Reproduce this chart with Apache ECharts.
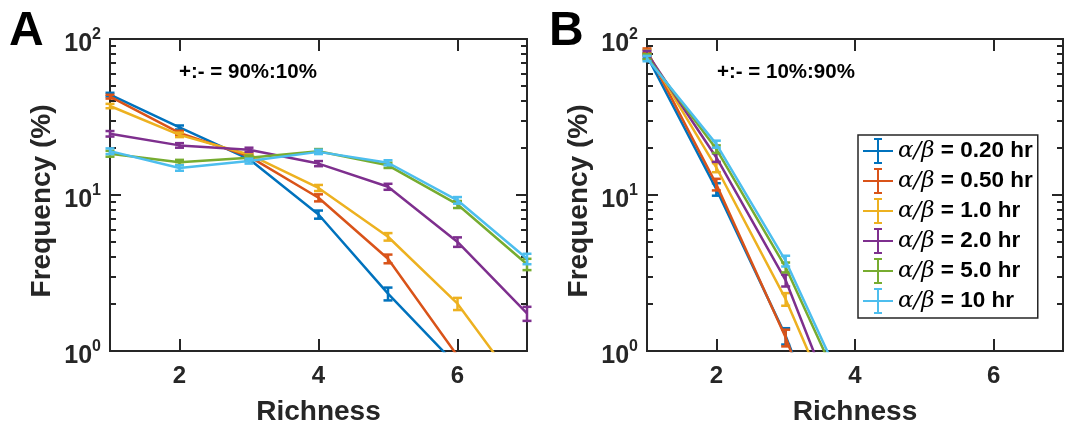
<!DOCTYPE html>
<html>
<head>
<meta charset="utf-8">
<script src="https://cdn.jsdelivr.net/npm/echarts@6/dist/echarts.min.js"></script>
<style>
html,body{margin:0;padding:0;background:#fff;}
#chart{width:1068px;height:431px;}
</style>
</head>
<body>
<div id="chart"></div>
<script>
// ---------- data ----------
const richness = [1, 2, 3, 4, 5, 6, 7];
const seriesNames = ['α/β = 0.20 hr', 'α/β = 0.50 hr', 'α/β = 1.0 hr', 'α/β = 2.0 hr', 'α/β = 5.0 hr', 'α/β = 10 hr'];
const xTicks = [2, 4, 6];
const yMajorTicks = [1, 10, 100];
const yMinorTicks = [2, 3, 4, 5, 6, 7, 8, 9, 20, 30, 40, 50, 60, 70, 80, 90];
const panelTexts = ['+:- = 90%:10%', '+:- = 10%:90%'];

// Panel A: +:- = 90%:10%
const freqA_020 = [44, 27.1, 17.0, 7.5, 2.33, 0.8, null];
const freqA_050 = [42.7, 25.0, 17.7, 9.6, 3.9, 0.93, null];
const freqA_100 = [37.2, 24.3, 18.2, 11.1, 5.4, 2.01, 0.5];
const freqA_200 = [24.7, 20.8, 19.5, 15.9, 11.3, 5.0, 1.74];
const freqA_500 = [18.4, 16.2, 17.3, 19.1, 15.5, 8.7, 3.6];
const freqA_1000 = [19.1, 14.9, 16.5, 18.9, 16.1, 9.25, 3.9];
const errA_020 = [1.2, 0.8, 0.5, 0.45, 0.22, 0.1, null];
const errA_050 = [1.2, 0.8, 0.5, 0.5, 0.25, 0.1, null];
const errA_100 = [1.2, 0.8, 0.5, 0.5, 0.3, 0.18, 0.1];
const errA_200 = [1.0, 0.7, 0.6, 0.6, 0.5, 0.35, 0.18];
const errA_500 = [0.8, 0.6, 0.6, 0.6, 0.6, 0.45, 0.3];
const errA_1000 = [0.8, 0.6, 0.6, 0.6, 0.6, 0.45, 0.3];

// Panel B: +:- = 10%:90%
const freqB_020 = [78, 10.9, 1.25, 0.09, null, null, null];
const freqB_050 = [84, 11.7, 1.22, 0.08, null, null, null];
const freqB_100 = [82, 15.0, 2.15, 0.2, null, null, null];
const freqB_200 = [81, 17.4, 2.84, 0.21, null, null, null];
const freqB_500 = [77, 19.7, 3.44, 0.37, null, null, null];
const freqB_1000 = [75, 21.2, 3.78, 0.41, null, null, null];
const errB_020 = [3, 1.0, 0.15, null, null, null, null];
const errB_050 = [3, 1.0, 0.15, null, null, null, null];
const errB_100 = [3, 1.0, 0.2, null, null, null, null];
const errB_200 = [3, 1.1, 0.25, null, null, null, null];
const errB_500 = [3, 1.1, 0.25, null, null, null, null];
const errB_1000 = [3, 1.1, 0.3, null, null, null, null];

// ---------- styling ----------
const colors = ['#0072BD', '#D95319', '#EDB120', '#7E2F8E', '#77AC30', '#4DBEEE'];
const FONT = 'Liberation Sans';
const AX = '#262626';

const panelsFreq = [
  [freqA_020, freqA_050, freqA_100, freqA_200, freqA_500, freqA_1000],
  [freqB_020, freqB_050, freqB_100, freqB_200, freqB_500, freqB_1000]
];
const panelsErr = [
  [errA_020, errA_050, errA_100, errA_200, errA_500, errA_1000],
  [errB_020, errB_050, errB_100, errB_200, errB_500, errB_1000]
];

const grids = [
  {left: 110, top: 39, width: 417, height: 313},
  {left: 647, top: 39, width: 416, height: 313}
];

const xAxes = [];
const yAxes = [];
grids.forEach((g, gi) => {
  ['bottom', 'top'].forEach(pos => {
    xAxes.push({
      type: 'value', gridIndex: gi, position: pos, min: 1, max: 7,
      axisLine: {show: true, onZero: false, lineStyle: {color: AX, width: 2}},
      axisTick: {show: true, inside: true, length: 12, customValues: xTicks, lineStyle: {color: AX, width: 2}},
      axisLabel: {show: pos === 'bottom', customValues: xTicks, margin: 13,
        fontFamily: FONT, fontWeight: 'bold', fontSize: 24, color: AX},
      splitLine: {show: false},
      name: pos === 'bottom' ? 'Richness' : '',
      nameLocation: 'middle', nameGap: 47,
      nameTextStyle: {fontFamily: FONT, fontWeight: 'bold', fontSize: 28, color: AX}
    });
  });
  ['left', 'right'].forEach(pos => {
    [true, false].forEach(major => {
      yAxes.push({
        type: 'log', logBase: 10, gridIndex: gi, position: pos, min: 1, max: 100,
        axisLine: {show: true, onZero: false, lineStyle: {color: AX, width: 2}},
        axisTick: {show: true, inside: true, length: major ? 11 : 6,
          customValues: major ? yMajorTicks : yMinorTicks, lineStyle: {color: AX, width: 2}},
        axisLabel: {show: pos === 'left' && major, customValues: yMajorTicks, margin: 9,
          color: AX,
          formatter: v => '{b|10}{s|' + Math.round(Math.log10(v)) + '}',
          rich: {
            b: {fontFamily: FONT, fontWeight: 'bold', fontSize: 25, color: AX, padding: [10, 0, 0, 0]},
            s: {fontFamily: FONT, fontWeight: 'bold', fontSize: 16, color: AX, padding: [0, 0, 8, 0]}
          }},
        splitLine: {show: false},
        minorTick: {show: false},
        name: (pos === 'left' && major) ? 'Frequency (%)' : '',
        nameLocation: 'middle', nameGap: 54,
        nameTextStyle: {fontFamily: FONT, fontWeight: 'bold', fontSize: 28, color: AX, padding: [0, 12, 0, 0]}
      });
    });
  });
});

const series = [];
panelsFreq.forEach((panel, pi) => {
  panel.forEach((vals, si) => {
    series.push({
      type: 'line', name: seriesNames[si],
      xAxisIndex: pi * 2, yAxisIndex: pi * 4,
      data: richness.map((x, k) => [x, vals[k]]),
      symbol: 'none', clip: true,
      lineStyle: {color: colors[si], width: 2.5},
      itemStyle: {color: colors[si]},
      z: 3 + si
    });
  });
});
panelsErr.forEach((panel, pi) => {
  panel.forEach((errs, si) => {
    const vals = panelsFreq[pi][si];
    const data = [];
    richness.forEach((x, k) => {
      if (vals[k] != null && errs[k] != null && vals[k] >= 1) {
        data.push([x, Math.max(vals[k] - errs[k], 0.5), vals[k] + errs[k]]);
      }
    });
    const col = colors[si];
    series.push({
      type: 'custom', name: 'err' + pi + si,
      xAxisIndex: pi * 2, yAxisIndex: pi * 4,
      clip: false, z: 3 + si,
      data: data,
      renderItem: (params, api) => {
        const x = api.value(0);
        const lo = api.coord([x, api.value(1)]);
        const hi = api.coord([x, api.value(2)]);
        const bottom = grids[pi].top + grids[pi].height;
        const y2 = Math.min(lo[1], bottom);
        const w = 4.5;
        const st = {stroke: col, lineWidth: 2.5};
        const ch = [
          {type: 'line', shape: {x1: hi[0], y1: hi[1], x2: hi[0], y2: y2}, style: st},
          {type: 'line', shape: {x1: hi[0] - w, y1: hi[1], x2: hi[0] + w, y2: hi[1]}, style: st}
        ];
        if (lo[1] <= bottom) {
          ch.push({type: 'line', shape: {x1: lo[0] - w, y1: lo[1], x2: lo[0] + w, y2: lo[1]}, style: st});
        }
        return {type: 'group', children: ch};
      }
    });
  });
});

const option = {
  backgroundColor: '#ffffff',
  animation: false,
  color: colors,
  title: [
    {text: 'A', left: 9, top: 8, padding: 0, textStyle: {fontFamily: FONT, fontWeight: 'bold', fontSize: 48, color: '#000'}},
    {text: 'B', left: 549, top: 8, padding: 0, textStyle: {fontFamily: FONT, fontWeight: 'bold', fontSize: 48, color: '#000'}},
    {text: panelTexts[0], left: 179, top: 62, padding: 0, textStyle: {fontFamily: FONT, fontWeight: 'bold', fontSize: 20.5, color: '#000'}},
    {text: panelTexts[1], left: 717, top: 62, padding: 0, textStyle: {fontFamily: FONT, fontWeight: 'bold', fontSize: 20.5, color: '#000'}}
  ],
  grid: grids,
  xAxis: xAxes,
  yAxis: yAxes,
  legend: {
    data: seriesNames,
    orient: 'vertical',
    left: 858, top: 135,
    padding: [3, 5, 4, 5],
    itemWidth: 30, itemHeight: 26, itemGap: 4,
    selectedMode: false,
    backgroundColor: '#fff',
    borderColor: AX, borderWidth: 1.5, borderRadius: 0,
    icon: 'path://M0,12H30V14H0Z M14,0H16V26H14Z M11,0H19V2H11Z M11,24H19V26H11Z',
    itemStyle: {borderWidth: 0},
    formatter: name => '{m|α/β}{t|' + name.replace('α/β', '') + '}',
    textStyle: {
      color: '#000',
      rich: {
        m: {fontFamily: 'DejaVu Serif', fontStyle: 'italic', fontSize: 23, color: '#000'},
        t: {fontFamily: FONT, fontWeight: 'bold', fontSize: 22.5, color: '#000'}
      }
    }
  },
  series: series
};

const chart = echarts.init(document.getElementById('chart'), null, {renderer: 'canvas'});
chart.setOption(option);
</script>
</body>
</html>
